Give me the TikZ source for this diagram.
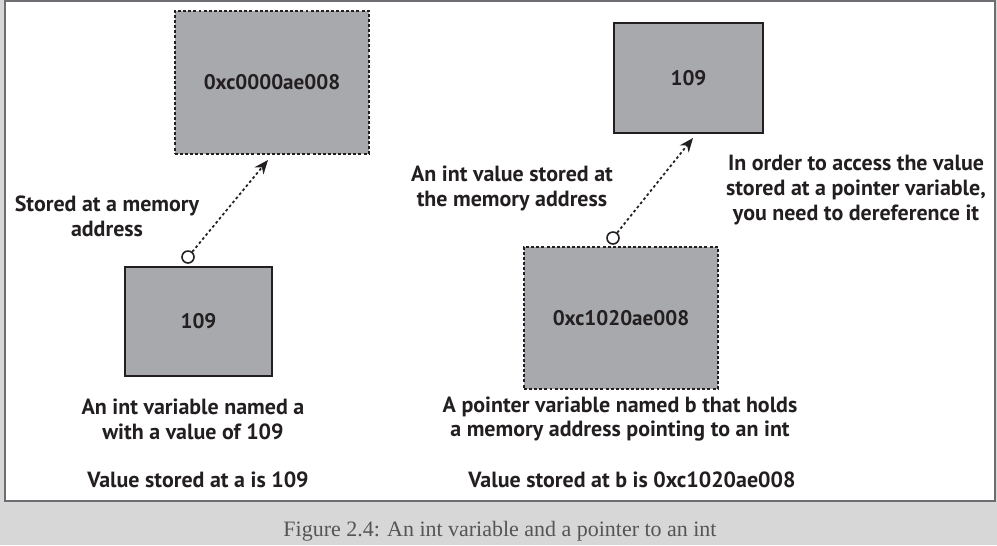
\documentclass[tikz,border=0pt]{standalone}
\usepackage{fontspec}
\setmainfont{PT Sans}
\newfontfamily\capfont{Liberation Serif}
\usetikzlibrary{arrows.meta}
\definecolor{cellgray}{HTML}{A7A9AC}
\definecolor{edgedark}{HTML}{231F20}
\definecolor{framegray}{HTML}{6D6E71}
\definecolor{pagegray}{HTML}{D7D7D7}
\definecolor{capgray}{HTML}{555555}
\tikzset{
    cell/.style={draw=edgedark, fill=cellgray, line width=1pt, inner sep=0pt,
        font=\fontsize{12}{14}\selectfont\bfseries, text=edgedark},
    dashcell/.style={cell, line width=0.75pt, dash pattern=on 1.7pt off 1.2pt},
    pin/.style={draw=edgedark, circle, fill=white, line width=0.9pt, minimum size=0.24cm, inner sep=0pt},
    ref/.style={-{Stealth[length=8pt, width=6.5pt]}, edgedark, line width=1pt, dash pattern=on 1.5pt off 1.5pt},
    note/.style={align=center, font=\fontsize{12.5}{14.2}\selectfont\bfseries, text=edgedark, inner sep=0pt}
}

\begin{document}
\begin{tikzpicture}[x=0.02cm, y=-0.02cm]
            \useasboundingbox (0,0) rectangle (997,545);
            \fill[pagegray] (0,0) rectangle (997,545);
            \draw[framegray, fill=white, line width=1.2pt] (5,1) rectangle (995,501);
            
            \node[dashcell, minimum width=3.88cm, minimum height=2.86cm] (addrA) at (272, 82.5) {0xc0000ae008};
            \node[cell, minimum width=2.94cm, minimum height=2.18cm] (varA) at (198.5, 321.5) {109};
            
            \node[cell, minimum width=2.98cm, minimum height=2.2cm] (valB) at (688.5, 78) {109};
            \node[dashcell, minimum width=3.88cm, minimum height=2.84cm] (varB) at (621, 318) {0xc1020ae008};
            
            \node[pin] (pinA) at (188, 257) {};
            \node[pin] (pinB) at (613, 238) {};
            \coordinate (tipA) at (268, 160);
            \coordinate (tipB) at (693, 138);
            
            \draw[ref] (pinA)--(tipA);
            \draw[ref] (pinB)--(tipB);
            
            \node[note] (storedA) at (107, 216) {Stored at a memory\\address};
            \node[note] (intval) at (512, 188) {An int value stored at\\the memory address};
            \node[note] (deref) at (856, 190) {In order to access the value\\stored at a pointer variable,\\you need to dereference it};
            
            \node[note] (descA) at (193, 419) {An int variable named a\\with a value of 109};
            \node[note] (descB) at (620, 419) {A pointer variable named b that holds\\a memory address pointing to an int};
            
            \node[note] (valueA) at (198, 480) {Value stored at a is 109};
            \node[note] (valueB) at (632, 480) {Value stored at b is 0xc1020ae008};
            
            \node[font=\capfont\fontsize{12.5}{14}\selectfont, text=capgray] (caption) at (500, 531) {Figure 2.4: An int variable and a pointer to an int};
\end{tikzpicture}
\end{document}
